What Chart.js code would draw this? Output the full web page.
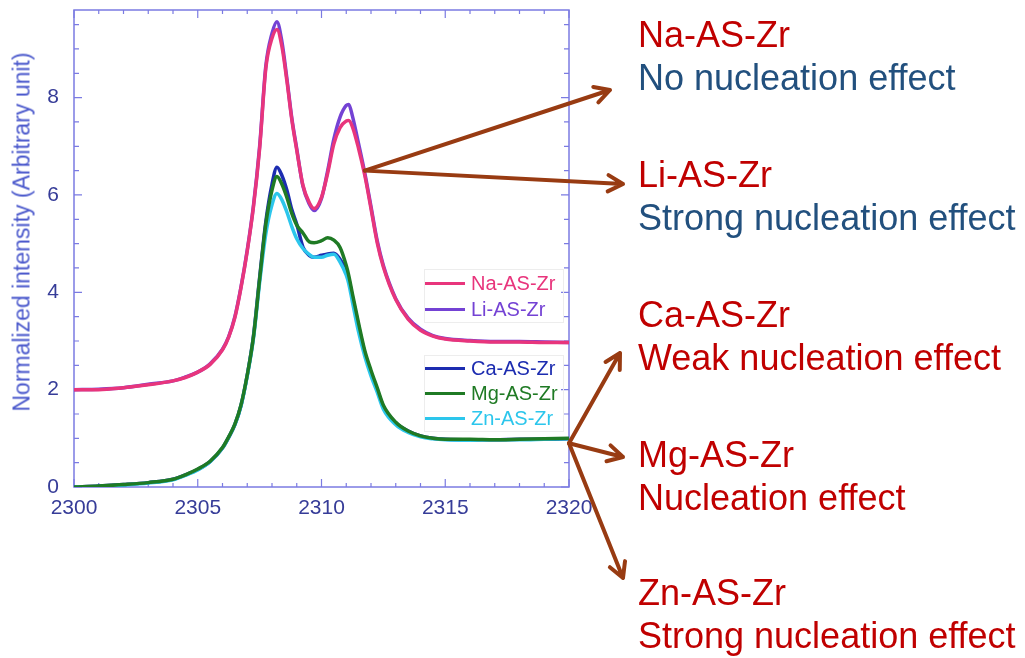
<!DOCTYPE html>
<html>
<head>
<meta charset="utf-8">
<script src="https://cdn.jsdelivr.net/npm/chart.js@4.4.1/dist/chart.umd.min.js"></script>
<style>
  html,body{margin:0;padding:0;background:#fff;}
  #wrap{position:relative;width:1025px;height:658px;overflow:hidden;font-family:"Liberation Sans",Arial,sans-serif;}
  #chart{position:absolute;left:0;top:0;}
  .ytitle{position:absolute;left:22px;top:232px;transform:translate(-50%,-50%) rotate(-90deg);
    font-size:23px;color:#4b59cc;white-space:nowrap;}
  .legend{position:absolute;left:424px;width:138px;border:1px solid #ededed;}
  .legend .row{display:flex;align-items:center;font-size:20px;white-space:nowrap;}
  .legend .swatch{width:40px;height:3px;margin-right:6px;flex:none;}
  .note{position:absolute;left:638px;font-size:36px;line-height:43px;white-space:nowrap;}
  .note .name{color:#c00000;}
  .note .effect{color:#22507e;}
  .note .effect.red{color:#c00000;}
</style>
</head>
<body>
<div id="wrap">
  <canvas id="chart" width="1025" height="658"></canvas>
  <div class="ytitle">Normalized intensity (Arbitrary unit)</div>
  <div class="legend" id="legendTop" style="top:269px"></div>
  <div class="legend" id="legendLow" style="top:355px"></div>

  <div class="note" style="top:13px"><div class="name">Na-AS-Zr</div><div class="effect">No nucleation effect</div></div>
  <div class="note" style="top:153px"><div class="name">Li-AS-Zr</div><div class="effect">Strong nucleation effect</div></div>
  <div class="note" style="top:293px"><div class="name">Ca-AS-Zr</div><div class="effect red">Weak nucleation effect</div></div>
  <div class="note" style="top:433px"><div class="name">Mg-AS-Zr</div><div class="effect red">Nucleation effect</div></div>
  <div class="note" style="top:571px"><div class="name">Zn-AS-Zr</div><div class="effect red">Strong nucleation effect</div></div>
</div>

<script>
/* === DATA === */
// photon energy (eV)
const energy = [2300, 2301, 2302, 2303, 2304, 2304.5, 2305, 2305.5, 2306, 2306.25,
  2306.5, 2306.75, 2307, 2307.25, 2307.5, 2307.75, 2308, 2308.2, 2308.4, 2308.6,
  2308.8, 2309, 2309.25, 2309.5, 2309.7, 2310, 2310.25, 2310.5, 2310.75, 2311,
  2311.1, 2311.25, 2311.5, 2311.75, 2312, 2312.25, 2312.5, 2313, 2313.5, 2314,
  2314.5, 2315, 2316, 2317, 2318, 2319, 2320];

const naAS = [2.00, 2.00, 2.04, 2.10, 2.18, 2.25, 2.36, 2.52, 2.82, 3.08,
  3.48, 4.10, 4.85, 5.75, 6.95, 8.60, 9.22, 9.40, 9.05, 8.35,
  7.55, 6.92, 6.20, 5.85, 5.72, 5.95, 6.45, 7.05, 7.38, 7.52,
  7.53, 7.40, 6.95, 6.40, 5.72, 5.02, 4.52, 3.85, 3.45, 3.22,
  3.10, 3.04, 3.00, 2.98, 2.98, 2.97, 2.97];

const liAS = [2.00, 2.01, 2.04, 2.11, 2.18, 2.26, 2.36, 2.53, 2.83, 3.09,
  3.50, 4.12, 4.87, 5.78, 7.00, 8.65, 9.32, 9.56, 9.15, 8.40,
  7.58, 6.95, 6.18, 5.82, 5.68, 5.93, 6.50, 7.15, 7.60, 7.84,
  7.86, 7.62, 7.05, 6.45, 5.76, 5.06, 4.55, 3.87, 3.47, 3.24,
  3.11, 3.05, 3.01, 2.99, 2.99, 2.98, 2.97];

const caAS = [0.00, 0.02, 0.05, 0.09, 0.16, 0.25, 0.36, 0.52, 0.80, 1.02,
  1.28, 1.68, 2.30, 3.10, 4.30, 5.45, 6.22, 6.57, 6.40, 6.10,
  5.70, 5.40, 4.93, 4.76, 4.72, 4.76, 4.79, 4.80, 4.68, 4.45,
  4.28, 3.90, 3.30, 2.75, 2.35, 2.00, 1.65, 1.32, 1.15, 1.05,
  1.00, 0.98, 0.97, 0.97, 0.98, 0.98, 0.99];

const mgAS = [0.00, 0.02, 0.05, 0.09, 0.16, 0.25, 0.37, 0.53, 0.81, 1.03,
  1.29, 1.69, 2.30, 3.08, 4.27, 5.40, 6.10, 6.38, 6.22, 5.95,
  5.62, 5.38, 5.22, 5.04, 5.02, 5.06, 5.12, 5.07, 4.92, 4.55,
  4.35, 3.97, 3.36, 2.80, 2.40, 2.04, 1.68, 1.33, 1.15, 1.05,
  1.00, 0.98, 0.98, 0.97, 0.98, 0.99, 1.00];

const znAS = [0.00, 0.01, 0.04, 0.08, 0.15, 0.24, 0.35, 0.52, 0.80, 1.02,
  1.28, 1.67, 2.28, 3.05, 4.20, 5.20, 5.80, 6.03, 5.90, 5.65,
  5.35, 5.10, 4.90, 4.78, 4.72, 4.72, 4.76, 4.78, 4.62, 4.35,
  4.18, 3.80, 3.18, 2.68, 2.28, 1.95, 1.60, 1.28, 1.12, 1.03,
  0.99, 0.97, 0.96, 0.97, 0.97, 0.98, 0.99];

const seriesNames = ["Na-AS-Zr", "Li-AS-Zr", "Ca-AS-Zr", "Mg-AS-Zr", "Zn-AS-Zr"];
const seriesValues = [naAS, liAS, caAS, mgAS, znAS];
const seriesColors = ["#e8357c", "#7442d4", "#1c2cb0", "#1f7a24", "#2cc6ec"];
const drawOrder = [1, 2, 5, 3, 4];

const frameColor = "#7b7be2";
const tickTextColor = "#363c98";

/* === LEGEND BOXES === */
function addLegendRow(box, i, rowH){
  const row = document.createElement("div");
  row.className = "row";
  row.style.height = rowH + "px";
  const sw = document.createElement("span");
  sw.className = "swatch";
  sw.style.background = seriesColors[i];
  const txt = document.createElement("span");
  txt.textContent = seriesNames[i];
  txt.style.color = seriesColors[i];
  row.appendChild(sw); row.appendChild(txt);
  box.appendChild(row);
}
const legendTop = document.getElementById("legendTop");
const legendLow = document.getElementById("legendLow");
[0, 1].forEach(i => addLegendRow(legendTop, i, 26));
[2, 3, 4].forEach(i => addLegendRow(legendLow, i, 25));

/* === FRAME + INWARD TICKS === */
const frameTicks = {
  id: "frameTicks",
  beforeDatasetsDraw(chart){
    const {ctx, chartArea: a, scales: {x, y}} = chart;
    ctx.save();
    ctx.strokeStyle = frameColor;
    ctx.lineWidth = 1.5;
    ctx.strokeRect(a.left, a.top, a.right - a.left, a.bottom - a.top);
    ctx.lineWidth = 1.2;
    ctx.beginPath();
    x.ticks.forEach(t => {
      const px = x.getPixelForValue(t.value);
      const len = t.value % 5 === 0 ? 8 : 4;
      ctx.moveTo(px, a.bottom); ctx.lineTo(px, a.bottom - len);
      ctx.moveTo(px, a.top); ctx.lineTo(px, a.top + len);
    });
    y.ticks.forEach(t => {
      const py = y.getPixelForValue(t.value);
      const len = t.value % 2 === 0 ? 8 : 5;
      ctx.moveTo(a.left, py); ctx.lineTo(a.left + len, py);
      ctx.moveTo(a.right, py); ctx.lineTo(a.right - len, py);
    });
    ctx.stroke();
    ctx.restore();
  }
};

/* === CALLOUT ARROWS === */
const arrowColor = "#983b12";
function drawArrow(ctx, x0, y0, x1, y1){
  const ang = Math.atan2(y1 - y0, x1 - x0);
  const head = 17, spread = 0.5;
  ctx.beginPath();
  ctx.moveTo(x0, y0); ctx.lineTo(x1, y1);
  ctx.moveTo(x1 - head * Math.cos(ang - spread), y1 - head * Math.sin(ang - spread));
  ctx.lineTo(x1, y1);
  ctx.lineTo(x1 - head * Math.cos(ang + spread), y1 - head * Math.sin(ang + spread));
  ctx.stroke();
}
const callouts = {
  id: "callouts",
  afterDraw(chart){
    const {ctx, scales: {x, y}} = chart;
    // one fan starts on the falling edge of the Na/Li peak, the other at the right end of the low curves
    const ax = x.getPixelForValue(2311.75), ay = y.getPixelForValue(6.5);
    const bx = x.getPixelForValue(2320), by = y.getPixelForValue(0.9);
    ctx.save();
    ctx.strokeStyle = arrowColor;
    ctx.lineWidth = 4;
    ctx.lineCap = "round";
    ctx.lineJoin = "round";
    drawArrow(ctx, ax, ay, 610, 90);
    drawArrow(ctx, ax, ay, 623, 184);
    drawArrow(ctx, bx, by, 620, 353);
    drawArrow(ctx, bx, by, 623, 457);
    drawArrow(ctx, bx, by, 623, 578);
    ctx.restore();
  }
};

/* === CHART === */
const datasets = seriesNames.map((name, i) => ({
  label: name,
  data: energy.map((e, k) => ({x: e, y: seriesValues[i][k]})),
  borderColor: seriesColors[i],
  borderWidth: 3.5,
  pointRadius: 0,
  cubicInterpolationMode: "monotone",
  order: drawOrder[i]
}));

const tickFont = {family: "'Liberation Sans', Arial, sans-serif", size: 21};

new Chart(document.getElementById("chart"), {
  type: "line",
  data: {datasets},
  options: {
    responsive: false,
    animation: false,
    devicePixelRatio: 1,
    layout: {padding: {left: 0, top: 10, right: 456, bottom: 0}},
    plugins: {legend: {display: false}, tooltip: {enabled: false}},
    scales: {
      x: {
        type: "linear",
        min: 2300, max: 2320,
        grid: {display: false, drawTicks: false},
        border: {display: false},
        ticks: {
          stepSize: 1, autoSkip: false, maxRotation: 0, padding: 9,
          color: tickTextColor, font: tickFont,
          callback: v => v % 5 === 0 ? v : ""
        },
        afterFit: s => { s.height = 171; s.paddingLeft = 0; s.paddingRight = 0; }
      },
      y: {
        type: "linear",
        min: 0, max: 9.8,
        grid: {display: false, drawTicks: false},
        border: {display: false},
        ticks: {
          stepSize: 0.5, autoSkip: false, includeBounds: false, padding: 15,
          color: tickTextColor, font: tickFont,
          callback: v => v % 2 === 0 ? v : ""
        },
        afterFit: s => { s.width = 74; s.paddingTop = 0; s.paddingBottom = 0; }
      }
    }
  },
  plugins: [frameTicks, callouts]
});
</script>
</body>
</html>
